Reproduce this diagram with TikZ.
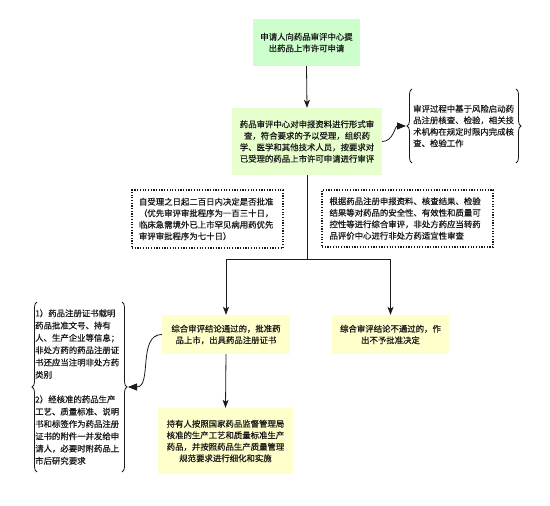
\documentclass[tikz,border=0pt]{standalone}
\usepackage{fontspec}
\newfontfamily\cjk[BoldFont={Noto Sans CJK SC}, BoldFeatures={FakeBold=0.6}]{Noto Sans CJK SC}
\usetikzlibrary{arrows.meta,decorations.pathreplacing}
\definecolor{mint}{HTML}{CCFFCC}
\definecolor{lgreen}{HTML}{E6FFCC}
\definecolor{lyellow}{HTML}{FFFFCC}
\definecolor{ink}{HTML}{1A1A1A}
\tikzset{
  txt/.style={font=\cjk\bfseries\fontsize{8.4}{11.5}\selectfont, inner sep=0pt, text=ink},
  fillbox/.style={txt, align=center, fill=#1},
  dotbox/.style={txt, align=left, draw=ink, line width=1.2pt, dash pattern=on 1.2pt off 1.5pt},
  arr/.style={draw=ink, line width=0.8pt, -{Stealth[length=8pt,width=6pt,inset=2pt]}},
  conn/.style={draw=ink, line width=0.8pt},
  curvearr/.style={draw=ink, line width=0.8pt, -{Triangle[length=9pt,width=7pt]}},
  bracestyle/.style={draw=ink, line width=0.8pt, decorate, decoration={brace, amplitude=5pt}}
}
\begin{document}
\begin{tikzpicture}[x=1pt,y=-1pt]
\useasboundingbox (0,0) rectangle (550,506);

\node[fillbox=mint, minimum width=107pt, minimum height=47pt] (b1) at (306.5,42.5)
  {申请人向药品审评中心提\\出药品上市许可申请};

\node[fillbox=lgreen, minimum width=150pt, minimum height=67pt] (b2) at (307,141.5)
  {药品审评中心对申报资料进行形式审\\查，符合要求的予以受理，组织药\\学、医学和其他技术人员，按要求对\\已受理的药品上市许可申请进行审评};

\node[txt, align=left, anchor=west] (a1) at (413,126)
  {审评过程中基于风险启动药\\品注册核查、检验，相关技\\术机构在规定时限内完成核\\查、检验工作};
\draw[bracestyle] (412,163) -- (412,89);
\draw[bracestyle] (516,89) -- (516,163);
\coordinate (t1) at (406,126);

\node[dotbox, minimum width=151pt, minimum height=58pt, text width=137pt] (d1) at (207.5,219)
  {自受理之日起二百日内决定是否批准\\（优先审评审批程序为一百三十日，\\临床急需境外已上市罕见病用药优先\\审评审批程序为七十日）};

\node[dotbox, minimum width=171pt, minimum height=57pt, text width=156pt] (d2) at (407.5,218.5)
  {根据药品注册申报资料、核查结果、检验\\结果等对药品的安全性、有效性和质量可\\控性等进行综合审评，非处方药应当转药\\品评价中心进行非处方药适宜性审查};

\node[fillbox=lyellow, minimum width=128pt, minimum height=39pt] (b3) at (226,334.5)
  {综合审评结论通过的，批准药\\品上市，出具药品注册证书};

\node[fillbox=lyellow, minimum width=117pt, minimum height=39pt] (b4) at (390.5,334.5)
  {综合审评结论不通过的，作\\出不予批准决定};

\node[fillbox=lyellow, minimum width=135pt, minimum height=66pt] (b5) at (225.5,441)
  {持有人按照国家药品监督管理局\\核准的生产工艺和质量标准生产\\药品，并按照药品生产质量管理\\规范要求进行细化和实施};

\node[txt, align=left, anchor=west, font=\cjk\bfseries\fontsize{8.4}{12.3}\selectfont] (a2) at (35,387)
  {1）药品注册证书载明\\药品批准文号、持有\\人、生产企业等信息；\\非处方药的药品注册证\\书还应当注明非处方药\\类别\\[12.3pt]2）经核准的药品生产\\工艺、质量标准、说明\\书和标签作为药品注册\\证书的附件一并发给申\\请人，必要时附药品上\\市后研究要求};
\draw[bracestyle] (37,472) -- (37,302);
\draw[bracestyle] (122,302) -- (122,472);
\coordinate (t2) at (128,387);

\coordinate (j) at (307,259);

\draw[arr] (b1.south) -- (b2.north);
\draw[conn] (b2.south) -- (j);
\draw[arr] (j) -| (b3.north);
\draw[arr] (j) -| (b4.north);
\draw[arr] (b3.south) -- (b5.north);
\draw[curvearr] (b2.east) to[out=0,in=180] (t1);
\draw[curvearr] (b3.west) to[out=180,in=0] (t2);
\end{tikzpicture}
\end{document}
